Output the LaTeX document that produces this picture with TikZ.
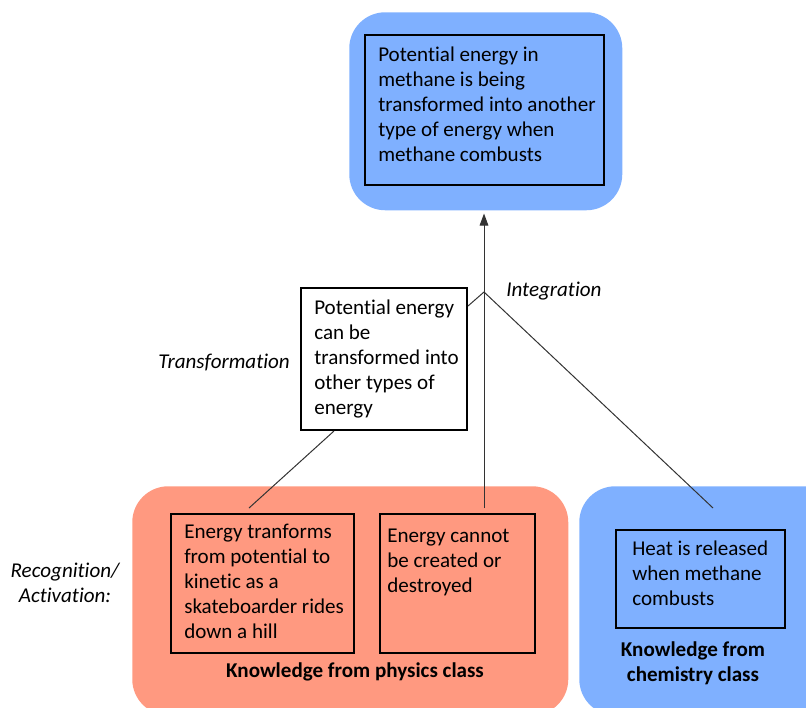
\documentclass[tikz,border=0pt]{standalone}
\usepackage{fontspec}
\setmainfont{Carlito}[Ligatures=NoCommon]
\usetikzlibrary{arrows.meta,calc}
\definecolor{kblue}{RGB}{127,176,255}
\definecolor{ksalmon}{RGB}{255,153,128}
\newcommand{\mlines}[2][l]{\begin{tabular}[t]{@{}#1@{}}#2\end{tabular}}
\begin{document}
\begin{tikzpicture}[x=0.75pt,y=-0.75pt,
  every node/.style={font=\fontsize{15.8}{18.75}\selectfont},
  group/.style={rounded corners=27pt, draw=none, anchor=north west, inner sep=0pt},
  kbox/.style={draw=black, line width=1.5pt, inner sep=0pt, anchor=north west},
  txt/.style={anchor=base west, inner sep=0pt},
  lbl/.style={anchor=base, inner sep=0pt},
  link/.style={draw=black!80, line width=0.75pt}]
\useasboundingbox (0,0) rectangle (806,707);
\clip (0,0) rectangle (806,707);
% group backgrounds
\node[group, fill=kblue, minimum width={273*0.75pt}, minimum height={198*0.75pt}] (top) at (349,12) {};
\node[group, fill=ksalmon, minimum width={436*0.75pt}, minimum height={229*0.75pt}] (phys) at (132,486) {};
\node[group, fill=kblue, minimum width={260*0.75pt}, minimum height={229*0.75pt}] (chem) at (579,486) {};
% boxes
\node[kbox, minimum width={239*0.75pt}, minimum height={150*0.75pt}] (topin) at (364,34) {};
\node[kbox, fill=white, minimum width={166*0.75pt}, minimum height={142*0.75pt}] (mid) at (300,287) {};
\node[kbox, minimum width={183*0.75pt}, minimum height={139*0.75pt}] (b1) at (170,513) {};
\node[kbox, minimum width={155*0.75pt}, minimum height={139*0.75pt}] (b2) at (379,513) {};
\node[kbox, minimum width={169*0.75pt}, minimum height={98*0.75pt}] (b3) at (615,529) {};
% texts
\node[txt] (t0) at (378,61) {\mlines{Potential energy in\\methane is being\\transformed into another\\type of energy when\\methane combusts}};
\node[txt] (tm) at (314,314) {\mlines{Potential energy\\can be\\transformed into\\other types of\\energy}};
\node[txt] (t1) at (184,538) {\mlines{Energy tranforms\\from potential to\\kinetic as a\\skateboarder rides\\down a hill}};
\node[txt] (t2) at (387,542) {\mlines{Energy cannot\\be created or\\destroyed}};
\node[txt] (t3) at (632,555) {\mlines{Heat is released\\when methane\\combusts}};
\node[lbl, font=\fontsize{15.8}{18.75}\selectfont\bfseries] (lp) at (355,677) {Knowledge from physics class};
\node[lbl, font=\fontsize{15.8}{18.75}\selectfont\bfseries] (lc) at (693,656) {\mlines[c]{Knowledge from\\chemistry class}};
\node[txt, font=\fontsize{15.8}{18.75}\selectfont\itshape] (ltr) at (158,368) {Transformation};
\node[txt, font=\fontsize{15.8}{18.75}\selectfont\itshape] (lint) at (506,296) {Integration};
\node[lbl, font=\fontsize{15.8}{18.75}\selectfont\itshape] (lrec) at (65,577) {\mlines[c]{Recognition/\\Activation:}};
% connectors
\coordinate (j) at (484,292);
\coordinate (e1) at (249,508);
\coordinate (e2) at (484,508);
\coordinate (e3) at (713,508);
\draw[link] ($(mid.south west)+(34,0)$) -- (e1);
\draw[link] ($(mid.north east)+(0,19)$) -- (j) -- (e3);
\draw[link, -{Triangle[length=9pt, width=6.5pt]}] (e2) -- ($(top.south -| e2)+(0,3)$);
\end{tikzpicture}
\end{document}
